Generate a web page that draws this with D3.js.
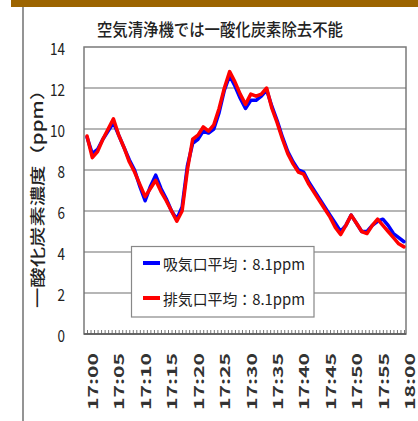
<!DOCTYPE html>
<html><head><meta charset="utf-8">
<script src="https://cdn.jsdelivr.net/npm/d3@7"></script>
<style>html,body{margin:0;padding:0;background:#fff;}svg{display:block;}</style>
</head><body>
<script>
const title = "空気清浄機では一酸化炭素除去不能";
const yTitle = "一酸化炭素濃度（ppm）";
const yTicks = [0, 2, 4, 6, 8, 10, 12, 14];
const tickMinutes = [0, 5, 10, 15, 20, 25, 30, 35, 40, 45, 50, 55, 60];
const tickLabels = ["17:00","17:05","17:10","17:15","17:20","17:25","17:30","17:35","17:40","17:45","17:50","17:55","18:00"];
const seriesNames = ["吸気口平均：8.1ppm", "排気口平均：8.1ppm"];
const seriesColors = ["#0000ff", "#ff0000"];
// one value per minute, 17:00 .. 18:00
const intake = [9.6,8.8,9.0,9.5,9.9,10.3,9.7,9.1,8.5,8.0,7.2,6.5,7.2,7.75,7.1,6.6,6.0,5.6,6.2,8.2,
  9.3,9.5,9.9,9.8,10.0,10.8,11.9,12.6,12.1,11.5,11.0,11.4,11.4,11.6,11.9,11.1,10.4,9.6,8.9,8.4,
  8.0,7.9,7.4,7.0,6.6,6.2,5.8,5.4,5.0,5.3,5.8,5.4,5.0,5.0,5.3,5.5,5.6,5.3,4.9,4.7,4.5];
const exhaust = [9.66,8.6,8.9,9.5,10.0,10.5,9.7,9.1,8.4,7.9,7.3,6.7,7.1,7.5,6.95,6.5,6.0,5.5,6.0,8.0,
  9.5,9.7,10.1,9.9,10.2,11.0,12.0,12.8,12.3,11.7,11.2,11.7,11.6,11.7,12.0,11.0,10.3,9.5,8.8,8.3,
  7.9,7.8,7.3,6.9,6.5,6.1,5.7,5.2,4.85,5.3,5.8,5.4,5.0,4.9,5.3,5.6,5.3,5.0,4.7,4.4,4.25];
const series = [intake, exhaust];

const W = 418, H = 421;
const svg = d3.select("body").append("svg").attr("width", W).attr("height", H);
const font = "'Noto Sans CJK JP','Noto Sans',sans-serif";

// top gold bar and left rule
svg.append("rect").attr("x", 11).attr("y", 0).attr("width", W - 11).attr("height", 7).attr("fill", "#9c6400");
svg.append("line").attr("x1", 23).attr("x2", 23).attr("y1", 7).attr("y2", H).attr("stroke", "#707070").attr("stroke-width", 1.5);

const plot = {l: 84, r: 406, t: 47, b: 334};
const x = d3.scaleLinear().domain([0, 60]).range([87, 404]);
const y = d3.scaleLinear().domain([0, 14]).range([plot.b, plot.t]);

// plot area
svg.append("rect").attr("x", plot.l).attr("y", plot.t).attr("width", plot.r - plot.l).attr("height", plot.b - plot.t)
  .attr("fill", "#fff").attr("stroke", "#7a7a7a").attr("stroke-width", 1.5);

// gridlines
svg.append("g").selectAll("line").data(yTicks.filter(v => v > 0 && v < 14)).join("line")
  .attr("x1", plot.l).attr("x2", plot.r).attr("y1", d => y(d)).attr("y2", d => y(d))
  .attr("stroke", "#6e6e6e").attr("stroke-width", 1.2);

// bottom axis with minor inward ticks
const xAxis = d3.axisBottom(x).tickValues(d3.range(0, 60.001, 2 / 3)).tickSize(-4).tickFormat("");
const gx = svg.append("g").attr("transform", `translate(0,${plot.b})`).call(xAxis);
gx.select(".domain").remove();
gx.selectAll(".tick line").attr("stroke", "#777").attr("stroke-width", 1);
svg.append("line").attr("x1", plot.l).attr("x2", plot.r).attr("y1", plot.b).attr("y2", plot.b).attr("stroke", "#555").attr("stroke-width", 1.5);

// x tick labels (rotated)
svg.append("g").selectAll("text").data(tickMinutes).join("text")
  .attr("transform", d => `translate(${x(d) + 5},353) rotate(-90)`)
  .attr("text-anchor", "end").attr("dominant-baseline", "central")
  .attr("font-family", font).attr("font-size", 14).attr("font-weight", 700).attr("fill", "#333")
  .attr("textLength", 57).attr("lengthAdjust", "spacingAndGlyphs")
  .text((d, i) => tickLabels[i]);

// y tick labels
svg.append("g").selectAll("text").data(yTicks).join("text")
  .attr("x", 65).attr("y", d => y(d)).attr("text-anchor", "end").attr("dominant-baseline", "central")
  .attr("font-family", font).attr("font-size", 17).attr("fill", "#222")
  .attr("textLength", d => String(d).length * 7.5).attr("lengthAdjust", "spacingAndGlyphs")
  .text(d => d);

// y title
svg.append("text").attr("transform", "translate(36,194) rotate(-90)")
  .attr("text-anchor", "middle").attr("dominant-baseline", "central")
  .attr("font-family", font).attr("font-size", 15).attr("font-weight", 500).attr("fill", "#222")
  .attr("textLength", 228).attr("lengthAdjust", "spacingAndGlyphs")
  .text(yTitle);

// title
svg.append("text").attr("x", 220).attr("y", 28).attr("text-anchor", "middle").attr("dominant-baseline", "central")
  .attr("font-family", font).attr("font-size", 17).attr("font-weight", 500).attr("fill", "#222")
  .attr("textLength", 246).attr("lengthAdjust", "spacingAndGlyphs")
  .text(title);

// lines
const line = d3.line().x((d, i) => x(i)).y(d => y(d));
series.forEach((s, k) => {
  svg.append("path").datum(s).attr("d", line).attr("fill", "none")
    .attr("stroke", seriesColors[k]).attr("stroke-width", 3.5)
    .attr("stroke-linejoin", "round").attr("stroke-linecap", "round");
});

// legend
const lg = svg.append("g");
lg.append("rect").attr("x", 131.5).attr("y", 246.5).attr("width", 182.5).attr("height", 70.5)
  .attr("fill", "#fff").attr("stroke", "#888").attr("stroke-width", 1.2);
seriesNames.forEach((name, k) => {
  const yy = 263 + k * 35;
  lg.append("line").attr("x1", 143).attr("x2", 160).attr("y1", yy).attr("y2", yy)
    .attr("stroke", seriesColors[k]).attr("stroke-width", 4);
  lg.append("text").attr("x", 163).attr("y", yy).attr("dominant-baseline", "central")
    .attr("font-family", font).attr("font-size", 15).attr("fill", "#222")
    .attr("textLength", 142).attr("lengthAdjust", "spacingAndGlyphs")
    .text(name);
});
</script>
</body></html>
